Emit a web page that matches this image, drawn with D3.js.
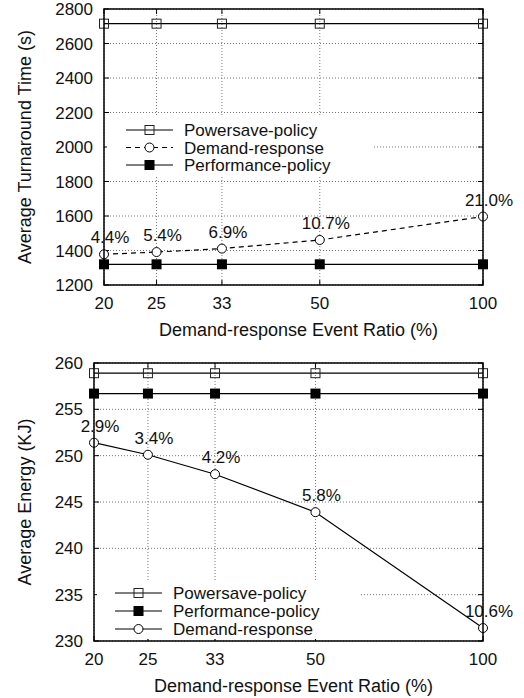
<!DOCTYPE html>
<html>
<head>
<meta charset="utf-8">
<script src="https://cdn.jsdelivr.net/npm/d3@7"></script>
<style>
  body { margin: 0; background: #fff; }
  svg text { font-family: "Liberation Sans", Arial, sans-serif; fill: #111; }
</style>
</head>
<body>
<div id="viz"></div>
<script>
// data
const ratios = [20, 25, 33, 50, 100];

const turnaroundPowersave = [2715, 2715, 2715, 2715, 2715];
const turnaroundPerformance = [1320, 1320, 1320, 1320, 1320];
const turnaroundDemand = [1378, 1391, 1411, 1461, 1597];
const turnaroundLabels = ["4.4%", "5.4%", "6.9%", "10.7%", "21.0%"];
const turnaroundTicks = [1200, 1400, 1600, 1800, 2000, 2200, 2400, 2600, 2800];

const energyPowersave = [258.9, 258.9, 258.9, 258.9, 258.9];
const energyPerformance = [256.7, 256.7, 256.7, 256.7, 256.7];
const energyDemand = [251.4, 250.1, 248.0, 243.9, 231.4];
const energyLabels = ["2.9%", "3.4%", "4.2%", "5.8%", "10.6%"];
const energyTicks = [230, 235, 240, 245, 250, 255, 260];

const W = 524, H = 698;

const svg = d3.select("#viz")
    .append("svg")
    .attr("width", W)
    .attr("height", H);

function drawPanel(p) {
    const g = svg.append("g");

    const x = d3.scaleLog().domain([20, 100]).range([p.left, p.right]);
    const y = d3.scaleLinear().domain(p.yDomain).range([p.bottom, p.top]);

    // grid
    g.selectAll(".gy").data(p.yTicks).enter().append("line")
        .attr("x1", p.left).attr("x2", p.right)
        .attr("y1", d => y(d)).attr("y2", d => y(d))
        .attr("stroke", "#777").attr("stroke-width", 1)
        .attr("stroke-dasharray", "1,2");
    g.selectAll(".gx").data(ratios).enter().append("line")
        .attr("x1", d => x(d)).attr("x2", d => x(d))
        .attr("y1", p.top).attr("y2", p.bottom)
        .attr("stroke", "#777").attr("stroke-width", 1)
        .attr("stroke-dasharray", "1,2");

    // inward tick marks
    const tl = 5;
    p.yTicks.forEach(t => {
        g.append("line").attr("x1", p.left).attr("x2", p.left + tl)
            .attr("y1", y(t)).attr("y2", y(t)).attr("stroke", "#000");
        g.append("line").attr("x1", p.right - tl).attr("x2", p.right)
            .attr("y1", y(t)).attr("y2", y(t)).attr("stroke", "#000");
    });
    ratios.forEach(t => {
        g.append("line").attr("x1", x(t)).attr("x2", x(t))
            .attr("y1", p.bottom).attr("y2", p.bottom - tl).attr("stroke", "#000");
        g.append("line").attr("x1", x(t)).attr("x2", x(t))
            .attr("y1", p.top).attr("y2", p.top + tl).attr("stroke", "#000");
    });

    // tick labels
    g.selectAll(".yl").data(p.yTicks).enter().append("text")
        .attr("x", p.left - 11).attr("y", d => y(d) + 6)
        .attr("text-anchor", "end").attr("font-size", 17)
        .text(d => d);
    g.selectAll(".xl").data(ratios).enter().append("text")
        .attr("x", d => x(d)).attr("y", p.bottom + 24)
        .attr("text-anchor", "middle").attr("font-size", 17)
        .text(d => d);

    // axis titles
    g.append("text")
        .attr("x", (p.left + p.right) / 2 + 5).attr("y", p.bottom + 51)
        .attr("text-anchor", "middle").attr("font-size", 18)
        .text("Demand-response Event Ratio (%)");
    g.append("text")
        .attr("transform", `translate(31,${(p.top + p.bottom) / 2}) rotate(-90)`)
        .attr("text-anchor", "middle").attr("font-size", 18)
        .text(p.yTitle);

    const line = d3.line().x((d, i) => x(ratios[i])).y(d => y(d));

    // series
    p.series.forEach(s => {
        g.append("path")
            .attr("d", line(s.values))
            .attr("fill", "none").attr("stroke", "#000").attr("stroke-width", 1.2)
            .attr("stroke-dasharray", s.dash || null);
        s.values.forEach((v, i) => drawMarker(g, s.marker, x(ratios[i]), y(v)));
    });

    // percentage labels
    const dr = p.series.find(s => s.labels);
    dr.values.forEach((v, i) => {
        g.append("text")
            .attr("x", x(ratios[i]) + 6).attr("y", y(v) - 11)
            .attr("text-anchor", "middle").attr("font-size", 17)
            .text(dr.labels[i]);
    });

    // frame
    g.append("rect")
        .attr("x", p.left).attr("y", p.top)
        .attr("width", p.right - p.left).attr("height", p.bottom - p.top)
        .attr("fill", "none").attr("stroke", "#000").attr("stroke-width", 1.5);

    // legend
    const lg = g.append("g");
    lg.append("rect")
        .attr("x", p.legend.x0).attr("y", p.legend.y0)
        .attr("width", p.legend.x1 - p.legend.x0).attr("height", p.legend.y1 - p.legend.y0)
        .attr("fill", "#fff");
    p.legendOrder.forEach((name, i) => {
        const s = p.series.find(d => d.name === name);
        const ly = p.legend.rowY + i * p.legend.rowH;
        lg.append("line")
            .attr("x1", p.legend.lineX0).attr("x2", p.legend.lineX1)
            .attr("y1", ly).attr("y2", ly)
            .attr("stroke", "#000").attr("stroke-width", 1.2)
            .attr("stroke-dasharray", s.dash || null);
        drawMarker(lg, s.marker, (p.legend.lineX0 + p.legend.lineX1) / 2, ly);
        lg.append("text")
            .attr("x", p.legend.textX).attr("y", ly + 6)
            .attr("font-size", 17)
            .text(name);
    });
}

function drawMarker(g, type, cx, cy) {
    if (type === "openSquare") {
        g.append("rect").attr("x", cx - 4.5).attr("y", cy - 4.5)
            .attr("width", 9).attr("height", 9)
            .attr("fill", "none").attr("stroke", "#222").attr("stroke-width", 1);
    } else if (type === "filledSquare") {
        g.append("rect").attr("x", cx - 5).attr("y", cy - 5)
            .attr("width", 10).attr("height", 10)
            .attr("fill", "#000");
    } else {
        g.append("circle").attr("cx", cx).attr("cy", cy).attr("r", 4.5)
            .attr("fill", "#fff").attr("stroke", "#000").attr("stroke-width", 1);
    }
}

drawPanel({
    left: 104, right: 483, top: 9, bottom: 285,
    yDomain: [1200, 2800], yTicks: turnaroundTicks,
    yTitle: "Average Turnaround Time (s)",
    series: [
        {name: "Powersave-policy", values: turnaroundPowersave, marker: "openSquare"},
        {name: "Demand-response", values: turnaroundDemand, marker: "circle", dash: "5,4", labels: turnaroundLabels},
        {name: "Performance-policy", values: turnaroundPerformance, marker: "filledSquare"}
    ],
    legendOrder: ["Powersave-policy", "Demand-response", "Performance-policy"],
    legend: {x0: 107, x1: 372, y0: 116, y1: 177, rowY: 130, rowH: 17.5, lineX0: 126, lineX1: 173, textX: 184}
});

drawPanel({
    left: 94, right: 483, top: 363, bottom: 641,
    yDomain: [230, 260], yTicks: energyTicks,
    yTitle: "Average Energy (KJ)",
    series: [
        {name: "Powersave-policy", values: energyPowersave, marker: "openSquare"},
        {name: "Performance-policy", values: energyPerformance, marker: "filledSquare"},
        {name: "Demand-response", values: energyDemand, marker: "circle", labels: energyLabels}
    ],
    legendOrder: ["Powersave-policy", "Performance-policy", "Demand-response"],
    legend: {x0: 97, x1: 361, y0: 582, y1: 639, rowY: 593, rowH: 18, lineX0: 115, lineX1: 162, textX: 173}
});
</script>
</body>
</html>
